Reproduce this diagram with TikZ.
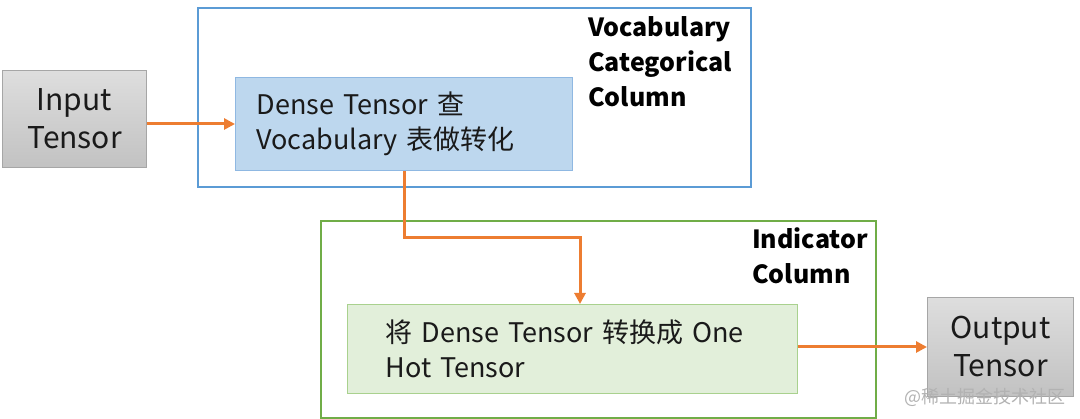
\documentclass[tikz,border=0pt]{standalone}
\usepackage{fontspec}
\setmainfont{Noto Sans CJK SC}
\usetikzlibrary{arrows.meta}
\definecolor{orng}{HTML}{ED7D31}
\definecolor{blueline}{HTML}{5B9BD5}
\definecolor{bluefill}{HTML}{BDD7EE}
\definecolor{blueborder}{HTML}{8FB8E2}
\definecolor{greenline}{HTML}{70AD47}
\definecolor{greenfill}{HTML}{E2EFDA}
\definecolor{greenborder}{HTML}{A9D18E}
\definecolor{grayborder}{HTML}{A6A6A6}
\definecolor{txt}{HTML}{1A1A1A}
\begin{document}
\begin{tikzpicture}[x=1pt,y=-1pt,
  graybox/.style={draw=grayborder, line width=1pt, top color=black!13, bottom color=black!24,
    anchor=north west, inner sep=0pt, align=center, text=txt,
    font=\fontsize{30}{38}\selectfont},
  outerbox/.style={line width=1.6pt, anchor=north west, inner sep=0pt},
  innerbox/.style={line width=1pt, anchor=north west, align=left, text=txt,
    font=\fontsize{27}{35}\selectfont},
  lbl/.style={anchor=north west, inner sep=0pt, align=left, text=black,
    font=\fontsize{25}{35}\selectfont\bfseries},
  arr/.style={draw=orng, line width=3pt, -{Triangle[length=11pt,width=11pt]}}
]
\useasboundingbox (0,0) rectangle (1080,419);

% input / output
\node[graybox, minimum width=144pt, minimum height=97pt] (in) at (2,70) {Input\\Tensor};
\node[graybox, minimum width=146pt, minimum height=99pt] (out) at (927,297) {Output\\Tensor};

% vocabulary categorical column
\node[outerbox, draw=blueline, minimum width=553pt, minimum height=179pt] (vcol) at (197,7) {};
\node[innerbox, draw=blueborder, fill=bluefill, inner xsep=21pt, inner ysep=0pt,
  text width=295pt, minimum height=93pt] (vin) at (235,77)
  {Dense Tensor 查\\Vocabulary 表做转化};
\node[lbl] (vlabel) at (588,16) {Vocabulary\\Categorical\\Column};

% indicator column
\node[outerbox, draw=greenline, minimum width=555pt, minimum height=197pt] (icol) at (320,220) {};
\node[innerbox, draw=greenborder, fill=greenfill, inner xsep=38pt, inner ysep=0pt,
  text width=374pt, minimum height=89pt] (gin) at (347,304)
  {将 Dense Tensor 转换成 One\\Hot Tensor};
\node[lbl] (ilabel) at (752,228) {Indicator\\Column};

% connectors
\coordinate (turn) at (580,238);
\draw[arr] (vin.west -| in.east) -- (vin.west);
\draw[arr] (vin.south) |- (turn) -- (turn |- gin.north);
\draw[arr] (out.west -| gin.east) -- (out.west);

% watermark
\node[text=black!30, anchor=east, inner sep=0pt, font=\fontsize{18}{20}\selectfont] (wm) at (1066,397) {@稀土掘金技术社区};
\end{tikzpicture}
\end{document}
